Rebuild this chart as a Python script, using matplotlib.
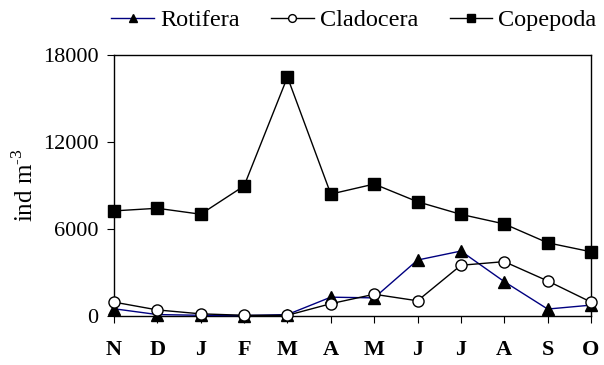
import matplotlib.pyplot as plt

plt.rcParams["font.family"] = ["Liberation Serif", "DejaVu Serif"]
plt.rcParams["mathtext.fontset"] = "custom"
plt.rcParams["mathtext.rm"] = "Liberation Serif"

months = ["N", "D", "J", "F", "M", "A", "M", "J", "J", "A", "S", "O"]
rotifera = [500, 100, 50, 30, 100, 1300, 1250, 3860, 4480, 2370, 480, 750]
cladocera = [960, 420, 150, 50, 50, 850, 1500, 1050, 3500, 3750, 2420, 960]
copepoda = [7250, 7430, 7020, 8970, 16480, 8410, 9100, 7880, 7010, 6350, 5050, 4430]
yticks = [0, 6000, 12000, 18000]


def main() -> None:
    fig = plt.figure(figsize=(6.04, 3.65), dpi=100)
    ax = fig.add_axes([0.1887, 0.1342, 0.7898, 0.7151])
    x = list(range(len(months)))

    ax.plot(x, rotifera, color="#000080", lw=1, marker="^", ms=8,
            mfc="black", mec="black", label="Rotifera", clip_on=False, zorder=3)
    ax.plot(x, cladocera, color="black", lw=1, marker="o", ms=8,
            mfc="white", mec="black", label="Cladocera", clip_on=False, zorder=4)
    ax.plot(x, copepoda, color="black", lw=1, marker="s", ms=8,
            mfc="black", mec="black", label="Copepoda", clip_on=False, zorder=3)

    ax.set_xlim(0, len(months) - 1)
    ax.set_ylim(0, 18000)
    ax.set_yticks(yticks)
    ax.set_xticks(x)
    ax.set_xticklabels(months, fontweight="bold")
    ax.tick_params(labelsize=16, direction="out", length=5, color="black")
    ax.tick_params(axis="y", pad=6)
    ax.tick_params(axis="x", pad=12)
    # plain hyphen in the exponent, not a math minus
    ax.set_ylabel("ind m$^{\\text{-3}}$", fontsize=18, labelpad=4)
    for s in ax.spines.values():
        s.set_linewidth(1)

    fig.legend(loc="upper center", bbox_to_anchor=(0.586, 1.035), ncol=3,
               frameon=False, fontsize=17.5, handlelength=1.75,
               handletextpad=0.25, columnspacing=1.3, markerscale=0.7)
    fig.savefig("out.png", dpi=100)


if __name__ == "__main__":
    main()
